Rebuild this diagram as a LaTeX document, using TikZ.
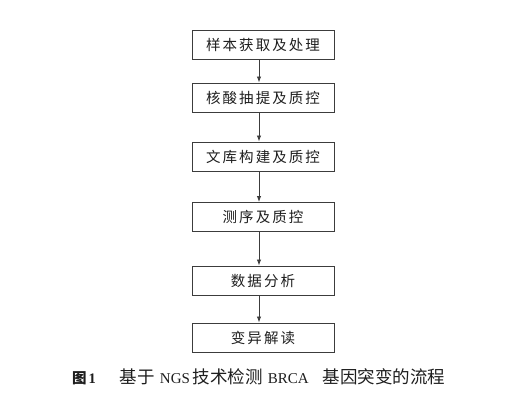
\documentclass[tikz,border=0pt]{standalone}
\usepackage{fontspec}
\setmainfont{Liberation Serif}
\newfontfamily\cjk{Noto Sans CJK SC}
\newfontfamily\cjkbox{Noto Sans CJK SC}[LetterSpace=14]
\usetikzlibrary{arrows.meta}
\definecolor{boxline}{RGB}{60,60,60}
\definecolor{txt}{RGB}{30,30,30}
\newcommand\latinpart[1]{{\rmfamily\fontsize{15}{17}\selectfont #1}}
\begin{document}
\begin{tikzpicture}[x=1pt,y=-1pt,
  stepbox/.style={draw=boxline,line width=1pt,minimum width=142pt,minimum height=29pt,inner sep=0pt,
    font=\cjkbox\fontsize{14.5}{16}\selectfont,text=txt},
  flow/.style={draw=boxline,line width=0.9pt,-{Latex[length=6pt,width=4.5pt]}}]
\useasboundingbox (0,0) rectangle (522,408);
\fill[white] (0,0) rectangle (522,408);
\node[stepbox] (b1) at (263,45) {样本获取及处理};
\node[stepbox] (b2) at (263,97.5) {核酸抽提及质控};
\node[stepbox] (b3) at (263,156.5) {文库构建及质控};
\node[stepbox] (b4) at (263,217) {测序及质控};
\node[stepbox] (b5) at (263,280.5) {数据分析};
\node[stepbox] (b6) at (263,337.5) {变异解读};
\foreach \a/\b in {b1/b2,b2/b3,b3/b4,b4/b5,b5/b6}{
  \draw[flow] ([xshift=-4pt]\a.south) -- ([xshift=-4pt]\b.north);
}
\node[anchor=west,inner sep=0pt,text=txt,font=\cjk\fontsize{17.5}{19}\selectfont] (cap) at (72,377)
  {{\fontsize{14.5}{16}\selectfont\bfseries 图\hspace{2pt}\rmfamily 1}\hspace{24pt}基于\hspace{5pt}\latinpart{NGS}\hspace{3pt}技术检测\hspace{5pt}\latinpart{BRCA}\hspace{14pt}基因突变的流程};
\end{tikzpicture}
\end{document}
